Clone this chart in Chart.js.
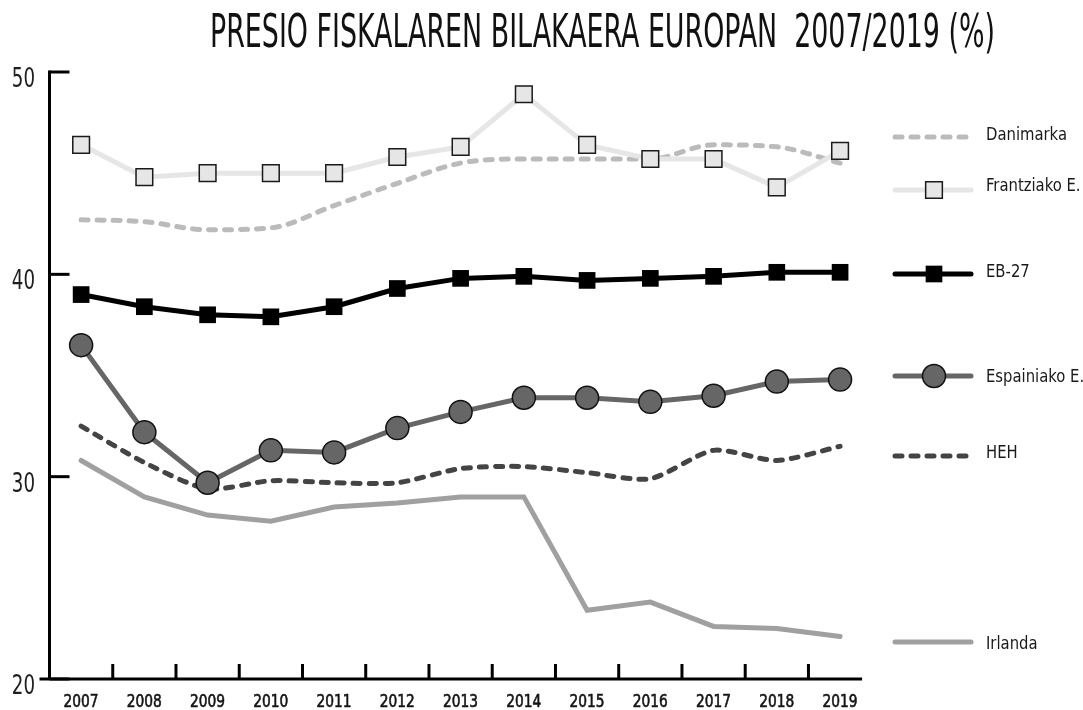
<!DOCTYPE html>
<html>
<head>
<meta charset="utf-8">
<script src="https://cdn.jsdelivr.net/npm/chart.js@4.4.1/dist/chart.umd.min.js"></script>
<style>
  html, body { margin: 0; padding: 0; background: #ffffff; }
  #wrap { width: 1083px; height: 710px; position: relative; }
</style>
</head>
<body>
<div id="wrap"><canvas id="c" width="1083" height="710"></canvas></div>
<script>
// ---- data ----
const years = ['2007','2008','2009','2010','2011','2012','2013','2014','2015','2016','2017','2018','2019'];
const yTicks = [20, 30, 40, 50];
const danimarka = [42.7, 42.6, 42.2, 42.3, 43.4, 44.5, 45.5, 45.7, 45.7, 45.7, 46.4, 46.3, 45.5];
const frantzia  = [46.4, 44.8, 45.0, 45.0, 45.0, 45.8, 46.3, 48.9, 46.4, 45.7, 45.7, 44.3, 46.1];
const eb27      = [39.0, 38.4, 38.0, 37.9, 38.4, 39.3, 39.8, 39.9, 39.7, 39.8, 39.9, 40.1, 40.1];
const espainia  = [36.5, 32.2, 29.7, 31.3, 31.2, 32.4, 33.2, 33.9, 33.9, 33.7, 34.0, 34.7, 34.8];
const heh       = [32.5, 30.7, 29.4, 29.8, 29.7, 29.7, 30.4, 30.5, 30.2, 29.9, 31.3, 30.8, 31.5];
const irlanda   = [30.8, 29.0, 28.1, 27.8, 28.5, 28.7, 29.0, 29.0, 23.4, 23.8, 22.6, 22.5, 22.1];
const seriesNames = ['Danimarka', 'Frantziako E.', 'EB-27', 'Espainiako E.', 'HEH', 'Irlanda'];
const TITLE = 'PRESIO FISKALAREN BILAKAERA EUROPAN\u00a0\u00a02007/2019 (%)';

const FONT = "'DejaVu Sans Condensed', 'DejaVu Sans', sans-serif";
Chart.defaults.font.family = FONT;

// ---- datasets (index 0 drawn on top) ----
const dsFrantzia = {
  label: seriesNames[1], data: frantzia,
  borderColor: '#e6e6e6', borderWidth: 5, tension: 0,
  pointStyle: 'rect', pointRadius: 11.8, pointHoverRadius: 11.8,
  pointBackgroundColor: '#e6e6e6', pointBorderColor: '#1a1a1a', pointBorderWidth: 1.5
};
const dsEspainia = {
  label: seriesNames[3], data: espainia,
  borderColor: '#666666', borderWidth: 5, tension: 0,
  pointStyle: 'circle', pointRadius: 11.5, pointHoverRadius: 11.5,
  pointBackgroundColor: '#666666', pointBorderColor: '#111111', pointBorderWidth: 1.5
};
const dsEB = {
  label: seriesNames[2], data: eb27,
  borderColor: '#000000', borderWidth: 5, tension: 0,
  pointStyle: 'rect', pointRadius: 11.8, pointHoverRadius: 11.8,
  pointBackgroundColor: '#000000', pointBorderColor: '#000000', pointBorderWidth: 0
};
const dsDanimarka = {
  label: seriesNames[0], data: danimarka,
  borderColor: '#bbbbbb', borderWidth: 5, borderDash: [7, 9], borderCapStyle: 'round',
  cubicInterpolationMode: 'monotone', pointRadius: 0, pointHoverRadius: 0
};
const dsHEH = {
  label: seriesNames[4], data: heh,
  borderColor: '#444444', borderWidth: 5, borderDash: [7, 9], borderCapStyle: 'round',
  tension: 0.25, pointRadius: 0, pointHoverRadius: 0
};
const dsIrlanda = {
  label: seriesNames[5], data: irlanda,
  borderColor: '#a0a0a0', borderWidth: 5, tension: 0, borderCapStyle: 'round',
  pointRadius: 0, pointHoverRadius: 0
};

// condensed text helper: draws text with a horizontal squeeze
function squeezedText(ctx, text, x, y, font, sx, align, color, strokeW) {
  ctx.save();
  ctx.font = font;
  ctx.fillStyle = color;
  ctx.textAlign = align;
  ctx.textBaseline = 'alphabetic';
  ctx.translate(x, y);
  ctx.scale(sx, 1);
  ctx.fillText(text, 0, 0);
  if (strokeW) {
    ctx.strokeStyle = color;
    ctx.lineWidth = strokeW;
    ctx.lineJoin = 'round';
    ctx.strokeText(text, 0, 0);
  }
  ctx.restore();
}
function widthOf(ctx, text, font) {
  ctx.save(); ctx.font = font; const w = ctx.measureText(text).width; ctx.restore(); return w;
}

// ---- plugins ----
const axesPlugin = {
  id: 'axesP',
  beforeDatasetsDraw(chart) {
    const ctx = chart.ctx, xs = chart.scales.x, ys = chart.scales.y, ca = chart.chartArea;
    ctx.save();
    ctx.strokeStyle = '#000';
    ctx.lineWidth = 3;
    ctx.lineCap = 'butt';
    const left = ca.left, bottom = ys.getPixelForValue(20), top = ys.getPixelForValue(50);
    // y axis line
    ctx.beginPath(); ctx.moveTo(left, top - 1.5); ctx.lineTo(left, bottom); ctx.stroke();
    // y ticks (inward)
    yTicks.forEach(v => {
      const y = ys.getPixelForValue(v);
      ctx.beginPath(); ctx.moveTo(left, y); ctx.lineTo(left + 20, y); ctx.stroke();
    });
    // x axis line
    const lastX = xs.getPixelForValue(years.length - 1);
    ctx.beginPath(); ctx.moveTo(left - 10, bottom); ctx.lineTo(lastX + 22, bottom); ctx.stroke();
    // x ticks between categories
    for (let i = 0; i < years.length - 1; i++) {
      const x = (xs.getPixelForValue(i) + xs.getPixelForValue(i + 1)) / 2;
      ctx.beginPath(); ctx.moveTo(x, bottom); ctx.lineTo(x, bottom - 15); ctx.stroke();
    }
    ctx.restore();
    // y tick labels
    const yFont = '26px ' + FONT;
    yTicks.forEach(v => {
      const y = ys.getPixelForValue(v);
      squeezedText(ctx, String(v), 35, y + 15, yFont, 0.78, 'right', '#1e1e1e');
    });
    // x tick labels
    const xFont = '17.5px ' + FONT;
    const xsx = 35 / widthOf(ctx, years[0], xFont);
    years.forEach((lab, i) => {
      const x = xs.getPixelForValue(i);
      squeezedText(ctx, lab, x, bottom + 28, xFont, xsx, 'center', '#141414', 0.6);
    });
  }
};

const titlePlugin = {
  id: 'titleP',
  afterDraw(chart) {
    const ctx = chart.ctx;
    const font = '46px ' + FONT;
    const w = widthOf(ctx, TITLE, font);
    squeezedText(ctx, TITLE, 602.5, 47, font, 785 / w, 'center', '#111');
  }
};

const legendPlugin = {
  id: 'legendP',
  afterDraw(chart) {
    const ctx = chart.ctx;
    const rows = [
      { ds: dsDanimarka, y: 137, ty: 133 },
      { ds: dsFrantzia,  y: 190, ty: 184 },
      { ds: dsEB,        y: 274, ty: 270 },
      { ds: dsEspainia,  y: 376, ty: 375 },
      { ds: dsHEH,       y: 456, ty: 451 },
      { ds: dsIrlanda,   y: 642, ty: 642 }
    ];
    const x0 = 895, x1 = 971, xm = 934;
    const font = '18px ' + FONT;
    const sx = 81 / widthOf(ctx, seriesNames[0], font);
    rows.forEach(r => {
      const d = r.ds;
      ctx.save();
      ctx.strokeStyle = d.borderColor;
      ctx.lineWidth = d.borderWidth;
      ctx.lineCap = 'round';
      ctx.setLineDash(d.borderDash || []);
      ctx.beginPath(); ctx.moveTo(x0, r.y); ctx.lineTo(x1, r.y); ctx.stroke();
      ctx.setLineDash([]);
      if (d.pointRadius > 0) {
        ctx.fillStyle = d.pointBackgroundColor;
        ctx.strokeStyle = d.pointBorderColor;
        ctx.lineWidth = d.pointBorderWidth;
        ctx.beginPath();
        if (d.pointStyle === 'circle') {
          ctx.arc(xm, r.y, d.pointRadius, 0, Math.PI * 2);
        } else {
          const s = d.pointRadius * Math.SQRT1_2;
          ctx.rect(xm - s, r.y - s, 2 * s, 2 * s);
        }
        ctx.fill();
        if (d.pointBorderWidth > 0) ctx.stroke();
      }
      ctx.restore();
      squeezedText(ctx, d.label, 986, r.ty + 6.5, font, sx, 'left', '#1a1a1a');
    });
  }
};

new Chart(document.getElementById('c'), {
  type: 'line',
  data: {
    labels: years,
    datasets: [dsFrantzia, dsEspainia, dsEB, dsDanimarka, dsHEH, dsIrlanda]
  },
  options: {
    responsive: false,
    animation: false,
    devicePixelRatio: 1,
    layout: { padding: { top: 72, right: 211.3, bottom: 0, left: 0 } },
    plugins: { legend: { display: false }, title: { display: false }, tooltip: { enabled: false } },
    elements: { line: { fill: false } },
    datasets: { line: { clip: false } },
    scales: {
      x: {
        type: 'category',
        offset: true,
        grid: { display: false, drawTicks: false },
        border: { display: false },
        ticks: { display: false },
        afterFit(scale) { scale.height = 31; }
      },
      y: {
        min: 20, max: 50,
        afterBuildTicks(scale) { scale.ticks = yTicks.map(v => ({ value: v })); },
        grid: { display: false, drawTicks: false },
        border: { display: false },
        ticks: { display: false },
        afterFit(scale) { scale.width = 49.5; }
      }
    }
  },
  plugins: [axesPlugin, titlePlugin, legendPlugin]
});
</script>
</body>
</html>
